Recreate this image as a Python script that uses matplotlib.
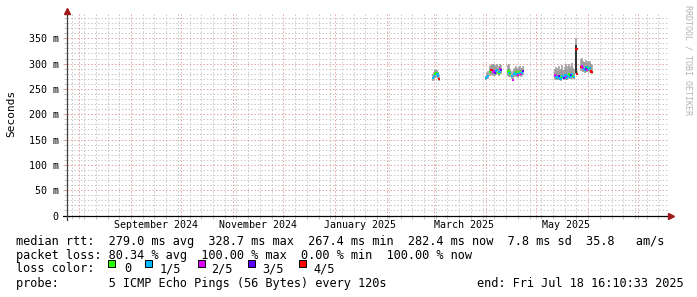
import matplotlib
matplotlib.use("Agg")
import matplotlib.pyplot as plt
import matplotlib.dates as mdates
from matplotlib.ticker import MultipleLocator
from matplotlib.patches import Rectangle
import matplotlib.transforms as mtransforms
import pandas as pd

W, H = 697, 297
MONO = "DejaVu Sans Mono"

# smokeping 360 day view, 12 hour samples (gaps = 100% loss)
times = [
    "2025-02-28 12:00", "2025-03-01 00:00", "2025-03-01 12:00", "2025-03-02 00:00",
    "2025-03-02 12:00", "2025-03-03 00:00", "2025-03-03 12:00", "2025-03-04 00:00",
    "2025-04-01 00:00", "2025-04-01 12:00", "2025-04-02 00:00", "2025-04-03 12:00",
    "2025-04-04 00:00", "2025-04-04 12:00", "2025-04-05 00:00", "2025-04-05 12:00",
    "2025-04-06 00:00", "2025-04-06 12:00", "2025-04-07 00:00", "2025-04-07 12:00",
    "2025-04-08 12:00", "2025-04-09 00:00", "2025-04-09 12:00", "2025-04-10 00:00",
    "2025-04-14 00:00", "2025-04-14 12:00", "2025-04-15 00:00", "2025-04-15 12:00",
    "2025-04-16 12:00", "2025-04-17 00:00", "2025-04-18 00:00", "2025-04-18 12:00",
    "2025-04-19 00:00", "2025-04-19 12:00", "2025-04-20 00:00", "2025-04-20 12:00",
    "2025-04-21 00:00", "2025-04-21 12:00", "2025-04-22 00:00", "2025-04-22 12:00",
    "2025-04-23 00:00",
    "2025-05-12 00:00", "2025-05-12 12:00", "2025-05-13 00:00", "2025-05-13 12:00",
    "2025-05-14 00:00", "2025-05-14 12:00", "2025-05-15 00:00", "2025-05-15 12:00",
    "2025-05-16 00:00", "2025-05-16 12:00", "2025-05-17 00:00", "2025-05-17 12:00",
    "2025-05-18 00:00", "2025-05-18 12:00", "2025-05-19 00:00", "2025-05-19 12:00",
    "2025-05-20 00:00", "2025-05-20 12:00", "2025-05-21 00:00", "2025-05-21 12:00",
    "2025-05-22 00:00", "2025-05-22 12:00", "2025-05-23 00:00", "2025-05-23 12:00",
    "2025-05-25 00:00", "2025-05-25 12:00",
    "2025-05-28 00:00", "2025-05-28 12:00", "2025-05-29 00:00", "2025-05-29 12:00",
    "2025-05-30 00:00", "2025-05-30 12:00", "2025-05-31 00:00", "2025-05-31 12:00",
    "2025-06-01 00:00", "2025-06-01 12:00", "2025-06-02 00:00", "2025-06-02 12:00",
    "2025-06-03 00:00",
]
median = [
    272, 276, 279, 281, 282, 279, 276, 270,
    271, 274, 276, 284, 288, 287, 283, 284, 285, 282, 286, 288, 282, 284, 289, 287,
    283, 285, 281, 279, 275, 268, 279, 281, 283, 280, 278, 281, 284, 282, 279, 281, 285,
    278, 275, 273, 271, 274, 276, 272, 270, 273, 276, 274, 271, 275, 277, 273, 272,
    276, 279, 275, 274, 278, 280, 276, 274,
    329, 280,
    294, 296, 291, 289, 287, 290, 293, 288, 291, 289, 292, 285, 283,
]
smoke_lo = [
    266, 269, 271, 273, 275, 272, 270, 266,
    268, 269, 270, 276, 278, 277, 276, 277, 278, 276, 278, 279, 276, 277, 279, 280,
    275, 276, 274, 273, 270, 265, 273, 274, 276, 274, 272, 275, 277, 276, 274, 276, 278,
    270, 269, 268, 267, 268, 270, 267, 266, 268, 270, 269, 267, 269, 271, 268, 267,
    270, 272, 269, 269, 271, 273, 270, 269,
    280, 277,
    285, 286, 284, 283, 282, 284, 286, 283, 285, 284, 286, 281, 280,
]
smoke_hi = [
    279, 284, 287, 288, 287, 285, 283, 277,
    276, 282, 285, 296, 298, 300, 297, 295, 299, 293, 297, 300, 292, 296, 299, 297,
    298, 300, 294, 290, 285, 280, 290, 292, 295, 291, 289, 293, 296, 292, 290, 291, 296,
    290, 293, 288, 285, 292, 296, 287, 284, 290, 297, 288, 286, 293, 299, 289, 287,
    295, 300, 291, 288, 296, 302, 292, 290,
    350, 286,
    310, 312, 306, 304, 303, 300, 307, 302, 305, 304, 306, 300, 297,
]
loss = [
    1, 1, 0, 1, 0, 1, 1, 4,
    1, 1, 1, 0, 4, 4, 2, 2, 2, 3, 1, 1, 0, 1, 2, 3,
    0, 0, 1, 0, 1, 2, 1, 1, 0, 1, 2, 1, 0, 1, 2, 1, 3,
    2, 2, 1, 1, 1, 3, 1, 1, 0, 1, 1, 3, 1, 1, 2, 1,
    1, 0, 0, 1, 3, 1, 0, 1,
    4, 4,
    4, 2, 2, 1, 1, 3, 1, 2, 0, 1, 1, 4, 4,
]
# dark core of the smoke on the spike day
spike_time = "2025-05-25 00:00"
spike_lo, spike_hi = 281, 336

loss_labels = ["0", "1/5", "2/5", "3/5", "4/5"]
loss_colors = ["#26ff00", "#00b8ff", "#dd00ff", "#5e00ff", "#ff0000"]

month_labels = ["September 2024", "November 2024", "January 2025", "March 2025", "May 2025"]
month_label_at = ["2024-09-16", "2024-11-16", "2025-01-16", "2025-03-19", "2025-05-19"]

t_start, t_end = "2024-07-24 12:00", "2025-07-18 16:10"

fig = plt.figure(figsize=(W / 100, H / 100), dpi=100)
fig.patch.set_facecolor("white")

def fx(px):
    return px / W

def fy(py):
    return 1 - py / H

ax = fig.add_axes([fx(66.5), fy(215.5), (668 - 66.5) / W, (215.5 - 13.5) / H])
ax.set_facecolor("white")

x = mdates.date2num(pd.to_datetime(times))
ax.vlines(x, smoke_lo, smoke_hi, color="#9a9a9a", lw=1.1, zorder=3)
ax.vlines(mdates.date2num(pd.Timestamp(spike_time)), spike_lo, spike_hi,
          color="#111111", lw=1.1, zorder=4)
ax.scatter(x, median, c=[loss_colors[l] for l in loss], marker="s", s=2.6,
           linewidths=0, zorder=5)

ax.set_xlim(mdates.date2num(pd.Timestamp(t_start)), mdates.date2num(pd.Timestamp(t_end)))
ax.set_ylim(0, 399)

ax.xaxis.set_major_locator(mdates.MonthLocator())
ax.xaxis.set_minor_locator(mdates.WeekdayLocator(byweekday=mdates.SU))
ax.yaxis.set_major_locator(MultipleLocator(50))
ax.yaxis.set_minor_locator(MultipleLocator(10))
ax.set_axisbelow(True)

ax.grid(which="minor", color="#c6c6c6", lw=0.72, ls=(0, (1.4, 2.0)))
ax.grid(which="major", color="#e4a0a0", lw=0.72, ls=(0, (1.4, 2.0)))

ax.set_xticklabels([])
ax.tick_params(axis="x", which="both", length=2, width=0.72, color="#c6c6c6")
ax.tick_params(axis="y", which="both", length=2, width=0.72, color="#c6c6c6")
ax.tick_params(axis="y", which="major", length=3, color="#e4a0a0", pad=2.6,
               labelsize=7.2)
ax.set_yticks(range(0, 400, 50))
ax.set_yticklabels(["0" if v == 0 else f"{v} m" for v in range(0, 400, 50)],
                   fontfamily=MONO)

for s in ax.spines.values():
    s.set_visible(False)
# axes and arrows, rrdtool style
ax.plot([-0.006, 1.0], [0, 0], color="black", lw=0.9, clip_on=False, zorder=6,
        transform=ax.transAxes)
ax.plot([0, 0], [-0.02, 1.0], color="#404040", lw=0.9, clip_on=False, zorder=6,
        transform=ax.transAxes)
ax.plot([1.005], [0], marker=">", color="#a01818", ms=4, transform=ax.transAxes,
        clip_on=False, zorder=7)
ax.plot([0], [1.01], marker="^", color="#a01818", ms=4, transform=ax.transAxes,
        clip_on=False, zorder=7)

lab_tf = mtransforms.blended_transform_factory(ax.transData, fig.transFigure)
for lab, at in zip(month_labels, month_label_at):
    ax.text(mdates.date2num(pd.Timestamp(at)), fy(225.3), lab, transform=lab_tf,
            ha="center", va="center", fontsize=7.2, fontfamily=MONO)

fig.text(fx(10.8), fy(113.7), "Seconds", rotation=90, ha="center", va="center",
         fontsize=8, fontfamily=MONO)
fig.text(fx(688), fy(5), "RRDTOOL / TOBI OETIKER", rotation=270, ha="center", va="top",
         fontsize=6, fontfamily=MONO, color="#b4b4b4")

fs = 8.55
fig.text(fx(16.5), fy(241.5),
         "median rtt:  279.0 ms avg  328.7 ms max  267.4 ms min  282.4 ms now  7.8 ms sd  35.8   am/s",
         va="center", fontsize=fs, fontfamily=MONO)
fig.text(fx(16.5), fy(255.2),
         "packet loss: 80.34 % avg  100.00 % max  0.00 % min  100.00 % now",
         va="center", fontsize=fs, fontfamily=MONO)
fig.text(fx(16.5), fy(268.8), "loss color:", va="center", fontsize=fs, fontfamily=MONO)

box_x = [108.3, 145.2, 198.0, 248.3, 299.0]
text_x = [123.8, 160.0, 211.5, 262.0, 313.0]
for bx, tx, lab, col in zip(box_x, text_x, loss_labels, loss_colors):
    fig.patches.append(Rectangle((fx(bx), fy(267.3)), 7 / W, 7 / H, transform=fig.transFigure,
                                 facecolor=col, edgecolor="black", lw=0.7))
    fig.text(fx(tx), fy(268.8), lab, va="center", fontsize=fs, fontfamily=MONO)

fig.text(fx(16.5), fy(283.2), "probe:       5 ICMP Echo Pings (56 Bytes) every 120s",
         va="center", fontsize=fs, fontfamily=MONO)
fig.text(fx(683.6), fy(283.2), "end: Fri Jul 18 16:10:33 2025", ha="right",
         va="center", fontsize=fs, fontfamily=MONO)

fig.savefig("out.png", dpi=100, facecolor="white")
